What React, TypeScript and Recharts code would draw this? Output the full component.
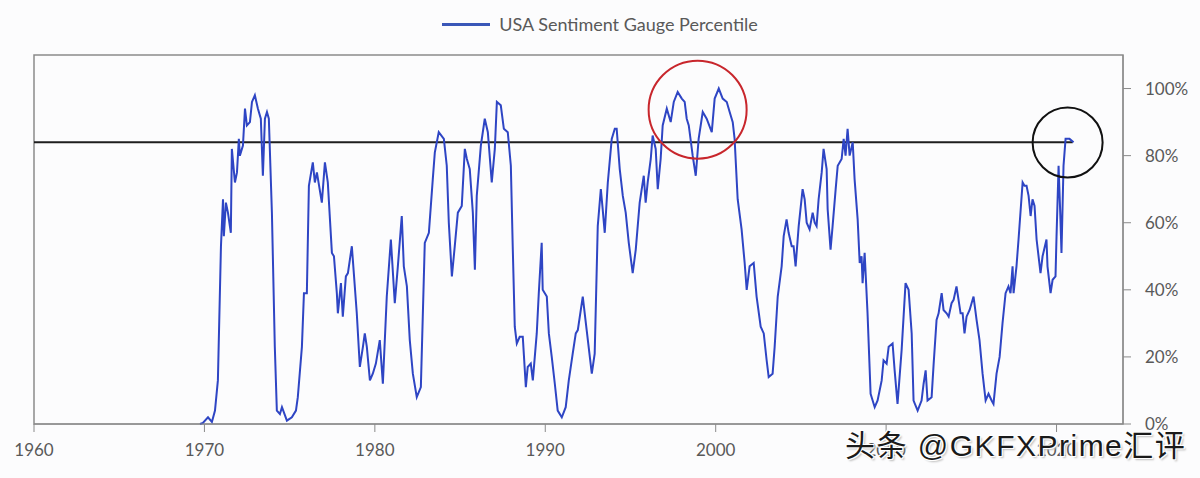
import React from "react";
import {
  LineChart,
  Line,
  XAxis,
  YAxis,
  Legend,
  ReferenceLine,
  ReferenceDot,
  ReferenceArea,
} from "recharts";

// time axis in decimal years, values in percentile (0-100)
const years = [
  1969.74, 1969.91, 1970.21, 1970.44, 1970.62, 1970.79, 1970.97, 1971.09, 1971.14, 1971.26,
  1971.38, 1971.55, 1971.61, 1971.79, 1971.91, 1972.02, 1972.08, 1972.26, 1972.38, 1972.49,
  1972.67, 1972.79, 1972.96, 1973.14, 1973.31, 1973.43, 1973.55, 1973.67, 1973.78, 1973.96,
  1974.13, 1974.25, 1974.43, 1974.55, 1974.84, 1975.13, 1975.37, 1975.48, 1975.72, 1975.84,
  1976.01, 1976.13, 1976.36, 1976.48, 1976.6, 1976.89, 1977.07, 1977.24, 1977.48, 1977.6,
  1977.77, 1977.83, 1978.01, 1978.12, 1978.3, 1978.42, 1978.65, 1978.94, 1979.12, 1979.3,
  1979.41, 1979.53, 1979.71, 1979.88, 1980.06, 1980.29, 1980.47, 1980.7, 1980.94, 1981.17,
  1981.35, 1981.58, 1981.7, 1981.88, 1982.05, 1982.23, 1982.46, 1982.7, 1982.93, 1983.17,
  1983.4, 1983.52, 1983.75, 1984.05, 1984.22, 1984.34, 1984.52, 1984.69, 1984.87, 1985.1,
  1985.28, 1985.4, 1985.57, 1985.75, 1985.87, 1985.98, 1986.22, 1986.45, 1986.63, 1986.86,
  1987.04, 1987.16, 1987.39, 1987.57, 1987.8, 1987.98, 1988.09, 1988.21, 1988.33, 1988.5,
  1988.68, 1988.86, 1988.97, 1989.15, 1989.27, 1989.5, 1989.62, 1989.79, 1989.85, 1990.09,
  1990.21, 1990.38, 1990.56, 1990.73, 1990.97, 1991.2, 1991.38, 1991.61, 1991.79, 1991.91,
  1992.2, 1992.43, 1992.73, 1992.9, 1993.08, 1993.26, 1993.37, 1993.49, 1993.67, 1993.9,
  1994.08, 1994.19, 1994.37, 1994.55, 1994.72, 1994.9, 1995.13, 1995.31, 1995.54, 1995.78,
  1995.89, 1996.01, 1996.19, 1996.3, 1996.48, 1996.6, 1996.77, 1996.89, 1997.13, 1997.36,
  1997.54, 1997.77, 1998.01, 1998.18, 1998.3, 1998.42, 1998.65, 1998.83, 1999.0, 1999.24,
  1999.47, 1999.77, 1999.94, 2000.18, 2000.41, 2000.65, 2000.82, 2001.0, 2001.11, 2001.29,
  2001.52, 2001.7, 2001.82, 2001.99, 2002.23, 2002.4, 2002.64, 2002.82, 2002.99, 2003.11,
  2003.34, 2003.46, 2003.64, 2003.87, 2003.99, 2004.16, 2004.28, 2004.46, 2004.57, 2004.69,
  2004.87, 2005.1, 2005.22, 2005.34, 2005.51, 2005.69, 2005.81, 2005.92, 2006.04, 2006.22,
  2006.33, 2006.51, 2006.57, 2006.74, 2006.86, 2007.04, 2007.16, 2007.39, 2007.51, 2007.62,
  2007.74, 2007.86, 2008.04, 2008.15, 2008.33, 2008.45, 2008.56, 2008.62, 2008.74, 2008.91,
  2009.09, 2009.33, 2009.5, 2009.74, 2009.85, 2010.03, 2010.15, 2010.38, 2010.5, 2010.67,
  2010.91, 2011.14, 2011.32, 2011.5, 2011.61, 2011.85, 2012.08, 2012.2, 2012.32, 2012.43,
  2012.67, 2012.79, 2012.96, 2013.08, 2013.26, 2013.37, 2013.55, 2013.67, 2013.84, 2013.96,
  2014.13, 2014.19, 2014.37, 2014.49, 2014.6, 2014.72, 2014.9, 2015.13, 2015.31, 2015.48,
  2015.66, 2015.84, 2016.01, 2016.19, 2016.3, 2016.48, 2016.66, 2016.83, 2017.01, 2017.18,
  2017.3, 2017.42, 2017.48, 2017.65, 2017.77, 2018.01, 2018.12, 2018.24, 2018.36, 2018.48,
  2018.59, 2018.71, 2018.83, 2019.06, 2019.18, 2019.41, 2019.47, 2019.65, 2019.77, 2019.94,
  2020.0, 2020.12, 2020.23, 2020.29, 2020.41, 2020.53, 2020.76, 2021.0,
];

const percentile = [
  0, 0.3, 2, 0.6, 4, 13, 53, 67, 56, 66,
  63, 57, 82, 72, 75, 85, 80, 83, 94, 89,
  90, 96, 98, 94, 91, 74, 91, 93, 91, 63,
  23, 4, 3, 5, 1, 2, 4, 8, 23, 39,
  39, 71, 78, 72, 75, 66, 78, 72, 51, 50,
  39, 33, 42, 32, 44, 45, 53, 33, 17, 23,
  27, 23, 13, 15, 18, 25, 12, 38, 55, 36,
  47, 62, 47, 41, 25, 15, 8, 11, 54, 57,
  73, 81, 87, 85, 77, 60, 44, 53, 63, 65,
  82, 79, 76, 63, 46, 68, 83, 91, 87, 72,
  82, 96, 95, 88, 87, 77, 53, 29, 24, 26,
  26, 11, 17, 18, 13, 27, 39, 54, 40, 38,
  27, 20, 12, 4, 2, 5, 13, 21, 27, 28,
  38, 28, 15, 21, 59, 70, 64, 57, 72, 85,
  88, 88, 76, 68, 63, 54, 45, 52, 66, 74,
  66, 72, 79, 86, 82, 70, 79, 89, 94, 90,
  96, 99, 97, 96, 91, 89, 80, 74, 85, 93,
  91, 87, 97, 100, 97, 96, 93, 90, 85, 67,
  58, 48, 40, 47, 48, 38, 29, 27, 19, 14,
  15, 23, 38, 47, 56, 61, 57, 53, 53, 47,
  59, 70, 67, 60, 58, 63, 60, 59, 67, 75,
  82, 76, 64, 52, 59, 70, 77, 79, 85, 80,
  88, 80, 84, 73, 61, 48, 50, 42, 51, 33,
  9, 5, 7, 13, 19, 18, 23, 24, 16, 6,
  22, 42, 40, 27, 7, 4, 7, 12, 16, 7,
  8, 18, 31, 33, 39, 34, 33, 32, 36, 37,
  41, 39, 33, 33, 27, 32, 34, 38, 31, 25,
  15, 7, 9, 7, 6, 15, 20, 30, 39, 41,
  39, 47, 39, 47, 55, 72, 71, 71, 68, 62,
  67, 65, 55, 45, 50, 55, 47, 39, 43, 44,
  56, 77, 61, 51, 77, 85, 85, 84,
];

const xTicks = [1960, 1970, 1980, 1990, 2000, 2010, 2020];
const yTicks = [0, 20, 40, 60, 80, 100];
const seriesName = "USA Sentiment Gauge Percentile";
const watermark = "头条 @GKFXPrime汇评";

const data = years.map((year, i) => ({ year, value: percentile[i] }));

const axisGray = "#8a8a8a";
const labelGray = "#595959";
const lineBlue = "#2e45c4";

function LegendContent() {
  return (
    <div
      style={{
        display: "flex",
        alignItems: "center",
        justifyContent: "center",
        fontFamily: "Lato, sans-serif",
        fontSize: 18,
        color: labelGray,
      }}
    >
      <span
        style={{
          display: "inline-block",
          width: 48,
          height: 3,
          background: "#3a57b8",
          marginRight: 9,
        }}
      />
      <span>{seriesName}</span>
    </div>
  );
}

export default function App() {
  return (
    <div
      style={{
        position: "absolute",
        left: 0,
        top: 0,
        width: 1200,
        height: 478,
        background: "#fcfcfd",
        overflow: "hidden",
      }}
    >
      <LineChart
        width={1200}
        height={478}
        data={data}
        margin={{ top: 55, right: 0, bottom: 0, left: 34 }}
      >
        <ReferenceArea
          x1={1960}
          x2={2023.9}
          y1={0}
          y2={110}
          fill="none"
          stroke={axisGray}
          strokeWidth={1.5}
        />
        <XAxis
          dataKey="year"
          type="number"
          domain={[1960, 2023.9]}
          ticks={xTicks}
          allowDataOverflow
          height={54}
          tickSize={8}
          tickMargin={12}
          stroke={axisGray}
          tick={{ fill: labelGray, fontSize: 17, fontFamily: "Lato, sans-serif" }}
        />
        <YAxis
          orientation="right"
          width={77}
          domain={[0, 110]}
          ticks={yTicks}
          tickSize={8}
          tickMargin={14}
          stroke={axisGray}
          tickFormatter={(v) => `${v}%`}
          tick={{ fill: labelGray, fontSize: 17, fontFamily: "Lato, sans-serif" }}
        />
        <Legend
          layout="horizontal"
          verticalAlign="middle"
          align="center"
          wrapperStyle={{ top: 13, left: 0, width: 1200 }}
          content={() => <LegendContent />}
        />
        <ReferenceLine
          segment={[
            { x: 1960, y: 84 },
            { x: 2020.95, y: 84 },
          ]}
          stroke="#1e1e1e"
          strokeWidth={2}
        />
        <Line
          type="linear"
          dataKey="value"
          name={seriesName}
          stroke={lineBlue}
          strokeWidth={2}
          dot={false}
          isAnimationActive={false}
        />
        <ReferenceDot
          x={1998.94}
          y={93.7}
          r={49}
          fill="none"
          stroke="#c8262c"
          strokeWidth={2}
        />
        <ReferenceDot
          x={2020.65}
          y={83.9}
          r={35}
          fill="none"
          stroke="#111"
          strokeWidth={2}
        />
      </LineChart>
      <div
        style={{
          position: "absolute",
          left: 845,
          top: 431,
          fontFamily: "'Liberation Sans', 'Noto Sans CJK SC', sans-serif",
          fontSize: 30,
          lineHeight: "30px",
          letterSpacing: 1.5,
          color: "#1a1a1a",
          whiteSpace: "nowrap",
          textShadow:
            "1px 1px 0 #fff, -1px -1px 0 #fff, 1px -1px 0 #fff, -1px 1px 0 #fff, 2px 2px 2px #bbb",
        }}
      >
        {watermark}
      </div>
    </div>
  );
}
